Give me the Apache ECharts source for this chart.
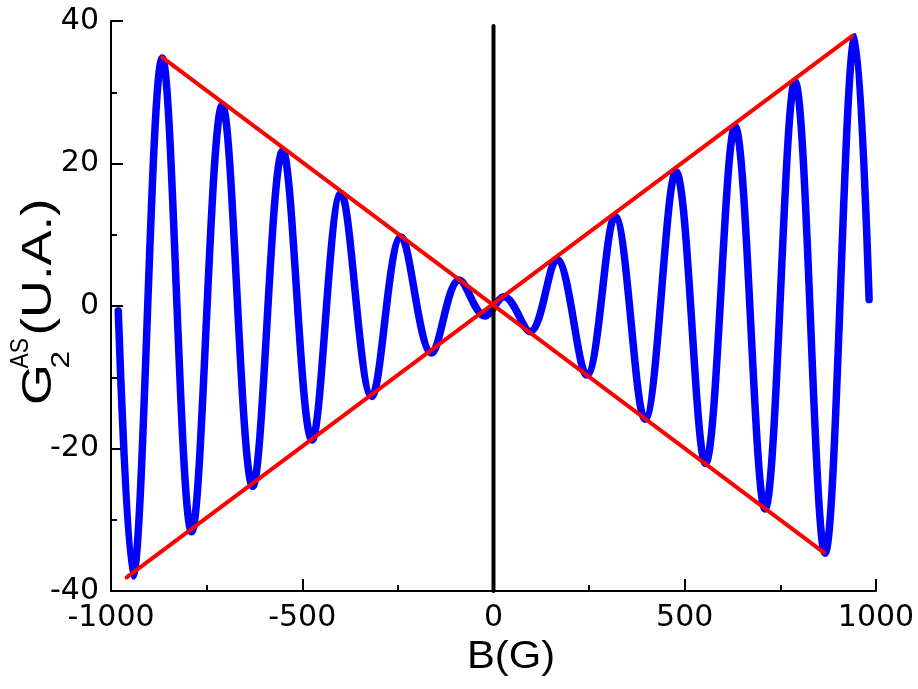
<!DOCTYPE html>
<html>
<head>
<meta charset="utf-8">
<script src="https://cdn.jsdelivr.net/npm/echarts@6/dist/echarts.min.js"></script>
<style>
html,body{margin:0;padding:0;background:#fff;}
#chart{width:918px;height:689px;}
</style>
</head>
<body>
<div id="chart"></div>
<script>
// Blue curve: end points and extrema, B (G) and G2^AS (U.A.)
const bField = [-981, -943, -866, -789, -709, -629.5, -551, -474.5, -398.7, -318.4, -241.8, -161.6, -89.4, -22.2, 27.5, 95.4, 165.2, 243.7, 317.6, 396, 477, 554.2, 631.4, 709.8, 788.2, 866.7, 945.1, 982];
const g2AS = [-0.7, -37.9, 34.8, -31.7, 28.2, -25.3, 21.8, -18.8, 15.8, -12.7, 9.7, -6.6, 3.65, -1.4, 1.3, -3.6, 6.55, -9.7, 12.6, -15.9, 18.85, -22.1, 25.2, -28.5, 31.5, -34.7, 37.8, 0.9];
// Red envelope lines
const envUpX = [-959, 938];
const envUpY = [-38.1, 37.9];
const envDownX = [-866, 864];
const envDownY = [34.9, -34.6];
// Black vertical line at B = 0
const zeroLineX = [0, 0];
const zeroLineY = [-40, 39.3];
// Axis ticks
const xTicks = [-1000, -500, 0, 500, 1000];
const yTicks = [-40, -20, 0, 20, 40];

const pairs = (xs, ys) => xs.map((x, i) => [x, ys[i]]);

const chart = echarts.init(document.getElementById('chart'), null, {renderer: 'canvas'});
const axisCommon = {
  type: 'value',
  axisLine: {show: true, onZero: false, lineStyle: {color: '#000', width: 2}},
  axisTick: {show: true, inside: true, length: 12, lineStyle: {color: '#000', width: 2}},
  minorTick: {show: true, splitNumber: 2, length: 6, lineStyle: {color: '#000', width: 2}},
  splitLine: {show: false},
  minorSplitLine: {show: false},
  axisLabel: {color: '#000', fontFamily: 'DejaVu Sans', fontSize: 30, formatter: v => String(v)}
};
const ySub = 26, yMain = 43, yScale = 1.22;
chart.setOption({
  animation: false,
  backgroundColor: '#fff',
  grid: {left: 111, right: 42, top: 21, bottom: 98, containLabel: false, outerBoundsMode: 'none'},
  xAxis: Object.assign({}, axisCommon, {
    min: xTicks[0], max: xTicks[xTicks.length - 1], interval: 500,
    axisLabel: Object.assign({}, axisCommon.axisLabel, {margin: 12})
  }),
  yAxis: Object.assign({}, axisCommon, {
    min: yTicks[0], max: yTicks[yTicks.length - 1], interval: 20,
    axisLabel: Object.assign({}, axisCommon.axisLabel, {margin: 12})
  }),
  graphic: [
    {
      type: 'group', x: 39, y: 405, rotation: Math.PI / 2, scaleX: yScale, scaleY: 1,
      children: [
        {type: 'text', x: 0, y: 0, style: {text: 'G', fill: '#000', font: yMain + 'px "Liberation Sans"', align: 'left', verticalAlign: 'middle'}},
        {type: 'text', x: 30, y: 23, style: {text: '2', fill: '#000', font: ySub + 'px "Liberation Sans"', align: 'left', verticalAlign: 'middle'}},
        {type: 'text', x: 30, y: -18, scaleX: 0.72, style: {text: 'AS', fill: '#000', font: ySub + 'px "Liberation Sans"', align: 'left', verticalAlign: 'middle'}},
        {type: 'text', x: 57, y: 0, style: {text: '(U.A.)', fill: '#000', font: yMain + 'px "Liberation Sans"', align: 'left', verticalAlign: 'middle'}}
      ]
    },
    {
      type: 'text', x: 511, y: 658, scaleX: 1.1,
      style: {text: 'B(G)', fill: '#000', font: '38px "Liberation Sans"', align: 'center', verticalAlign: 'middle'}
    }
  ],
  series: [
    {
      type: 'line', data: pairs(bField, g2AS), smooth: 0.36, showSymbol: false, symbol: 'none', z: 2,
      lineStyle: {color: '#0000ff', width: 7.5, cap: 'round', join: 'round'}
    },
    {
      type: 'line', data: pairs(zeroLineX, zeroLineY), showSymbol: false, symbol: 'none', z: 3,
      lineStyle: {color: '#000', width: 4, cap: 'round'}
    },
    {
      type: 'line', data: pairs(envUpX, envUpY), showSymbol: false, symbol: 'none', z: 4,
      lineStyle: {color: '#ff0000', width: 4, cap: 'round'}
    },
    {
      type: 'line', data: pairs(envDownX, envDownY), showSymbol: false, symbol: 'none', z: 4,
      lineStyle: {color: '#ff0000', width: 4, cap: 'round'}
    }
  ]
});
</script>
</body>
</html>
